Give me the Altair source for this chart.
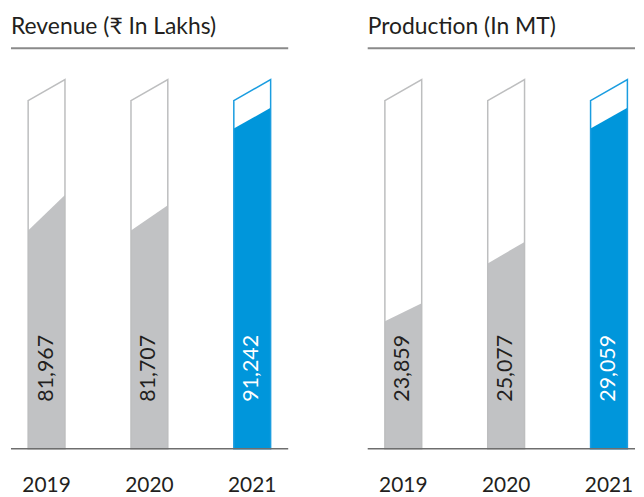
import altair as alt
import pandas as pd

YEARS = ["2019", "2020", "2021"]
REVENUE = [81967, 81707, 91242]
PRODUCTION = [23859, 25077, 29059]
# drawn heights of the slanted tops (left edge, right edge), outline left edge = 100
REV_FILL_L = [62.7, 62.7, 92.0]
REV_FILL_R = [72.9, 69.9, 97.9]
PROD_FILL_L = [36.6, 53.2, 92.0]
PROD_FILL_R = [41.8, 59.4, 97.9]
OUTLINE_L = [100.0, 100.0, 100.0]
OUTLINE_R = [106.0, 106.0, 106.0]
HIGHLIGHT = [0, 0, 1]

TITLES = ["Revenue (₹ In Lakhs)", "Production (In MT)"]

FONT = "Lato, 'Noto Sans', sans-serif"
GRAY = "#c1c2c4"
GRAY_LINE = "#bdbebf"
BLUE = "#0096db"
BLUE_LINE = "#1a9de0"
TEXT = "#231f20"

HALF_W = 0.179
Y_MAX = 115.0
LABEL_Y = 13.5
PLOT_H = 403


def shapes(fill_l, fill_r):
    rows = []
    for i, y in enumerate(YEARS):
        rows.append(dict(year=y, x=i - HALF_W, fill=fill_l[i], out=OUTLINE_L[i], hl=HIGHLIGHT[i]))
        rows.append(dict(year=y, x=i + HALF_W, fill=fill_r[i], out=OUTLINE_R[i], hl=HIGHLIGHT[i]))
    return pd.DataFrame(rows)


def labels(values):
    return pd.DataFrame(dict(year=YEARS, x=list(range(len(YEARS))), value=values, hl=HIGHLIGHT))


def panel(title, values, fill_l, fill_r, width, xmax):
    xscale = alt.Scale(domain=[-0.346, xmax], nice=False, zero=False)
    yscale = alt.Scale(domain=[0, Y_MAX], nice=False, zero=True)
    sd = shapes(fill_l, fill_r)
    ld = labels(values)
    fill = alt.Chart(sd).mark_area(interpolate="linear").encode(
        x=alt.X("x:Q", scale=xscale, axis=None),
        y=alt.Y("fill:Q", scale=yscale, axis=None),
        y2=alt.datum(0),
        detail="year:N",
        color=alt.condition(alt.datum.hl == 1, alt.value(BLUE), alt.value(GRAY)),
    )
    outline = alt.Chart(sd).mark_area(interpolate="linear", fillOpacity=0, strokeWidth=1.5).encode(
        x=alt.X("x:Q", scale=xscale),
        y=alt.Y("out:Q", scale=yscale),
        y2=alt.datum(0),
        detail="year:N",
        stroke=alt.condition(alt.datum.hl == 1, alt.value(BLUE_LINE), alt.value(GRAY_LINE)),
    )
    txt = alt.Chart(ld).mark_text(
        angle=270, align="left", baseline="middle", fontSize=21.5, font=FONT
    ).encode(
        x=alt.X("x:Q", scale=xscale),
        y=alt.datum(LABEL_Y),
        text=alt.Text("value:Q", format=","),
        color=alt.condition(alt.datum.hl == 1, alt.value("#ffffff"), alt.value(TEXT)),
    )
    years = alt.Chart(ld).mark_text(
        align="center", baseline="alphabetic", fontSize=21, font=FONT, color=TEXT
    ).encode(
        x=alt.X("x:Q", scale=xscale),
        y=alt.value(PLOT_H + 44),
        text="year:N",
    )
    ttl = alt.Chart(pd.DataFrame({"t": [title]})).mark_text(
        align="left", baseline="alphabetic", fontSize=23, font=FONT, color=TEXT
    ).encode(
        x=alt.value(0),
        y=alt.value(-14),
        text="t:N",
    )
    top = alt.Chart(pd.DataFrame({"v": [Y_MAX]})).mark_rule(color="#8a8a8a", strokeWidth=2).encode(
        y=alt.Y("v:Q", scale=yscale)
    )
    base = alt.Chart(pd.DataFrame({"v": [0]})).mark_rule(color="#6e6e6e", strokeWidth=1.6).encode(
        y=alt.Y("v:Q", scale=yscale)
    )
    return alt.layer(fill, outline, txt, years, ttl, top, base).properties(
        width=width, height=PLOT_H
    )


left = panel(TITLES[0], REVENUE, REV_FILL_L, REV_FILL_R, 279, 2.35)
right = panel(TITLES[1], PRODUCTION, PROD_FILL_L, PROD_FILL_R, 269, 2.253)

chart = alt.hconcat(left, right, spacing=78).properties(
    padding={"left": 2, "top": 7, "right": 0, "bottom": 0}
).configure_view(strokeWidth=0)

chart.save("out.html", embed_options={"renderer": "svg", "actions": False})
